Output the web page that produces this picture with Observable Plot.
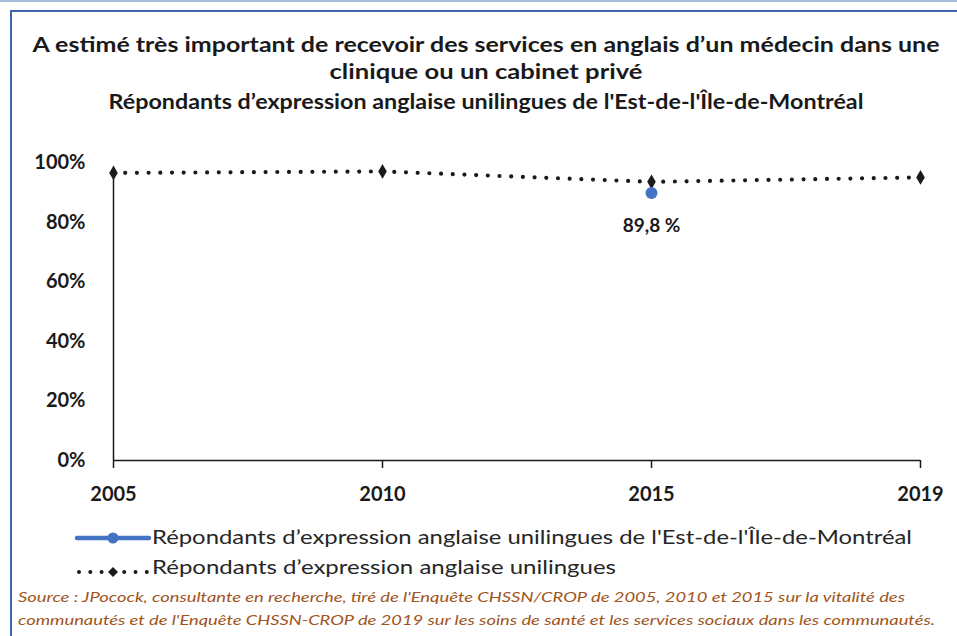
<!DOCTYPE html>
<html>
<head>
<meta charset="utf-8">
<script src="https://cdn.jsdelivr.net/npm/d3@7"></script>
<script src="https://cdn.jsdelivr.net/npm/@observablehq/plot@0.6"></script>
<style>
  html, body { margin: 0; padding: 0; background: #fff; }
  body { width: 957px; height: 636px; position: relative; overflow: hidden; font-family: Lato, "Open Sans", sans-serif; }
  #topline { position: absolute; left: 0; top: 0; width: 957px; height: 2px; background: #a9bcdc; }
  #frame { position: absolute; left: 10px; top: 10px; width: 960px; height: 640px; border-left: 2px solid #4066ad; border-top: 2px solid #4066ad; box-sizing: border-box; }
  #header, #chart, #footer { position: absolute; left: 0; }
  #header { top: 0; }
  #chart { top: 140px; }
  #footer { top: 510px; }
  svg text { font-family: Lato, "Open Sans", sans-serif; }
</style>
</head>
<body>
<div id="topline"></div>
<div id="frame"></div>
<div id="header"></div>
<div id="chart"></div>
<div id="footer"></div>
<script>
// ---- Data ----
const titleLines = [
  "A estimé très important de recevoir des services en anglais  d\u2019un médecin dans une",
  "clinique  ou un cabinet privé",
  "Répondants  d\u2019expression anglaise  unilingues  de l'Est-de-l'Île-de-Montréal"
];
const years = ["2005", "2010", "2015", "2019"];
const allValues = [0.965, 0.97, 0.935, 0.95];      // Répondants d'expression anglaise unilingues
const estYears = ["2015"];
const estValues = [0.898];                           // Est-de-l'Île-de-Montréal
const estLabels = ["89,8 %"];
const yTicks = [0, 0.2, 0.4, 0.6, 0.8, 1];
const seriesNames = [
  "Répondants d\u2019expression anglaise unilingues de l'Est-de-l'Île-de-Montréal",
  "Répondants d\u2019expression anglaise unilingues"
];
const sourceLines = [
  "Source : JPocock, consultante en recherche, tiré de l'Enquête CHSSN/CROP de 2005, 2010 et 2015 sur la vitalité des",
  "communautés et de l'Enquête CHSSN-CROP de 2019 sur les soins de santé et les services sociaux dans les communautés."
];

const allData = years.map((year, i) => ({year, value: allValues[i]}));
const estData = estYears.map((year, i) => ({year, value: estValues[i], label: estLabels[i]}));

const NS = "http://www.w3.org/2000/svg";
function el(tag, attrs, parent) {
  const e = document.createElementNS(NS, tag);
  for (const k in attrs) e.setAttribute(k, attrs[k]);
  if (parent) parent.appendChild(e);
  return e;
}

// ---- Header (title) ----
const header = el("svg", {width: 957, height: 140});
const titleSpecs = [
  {y: 52, len: 907},
  {y: 79, len: 313},
  {y: 109, len: 755}
];
titleLines.forEach((t, i) => {
  const tx = el("text", {
    x: 486, y: titleSpecs[i].y, "text-anchor": "middle",
    "font-size": 20, "font-weight": "bold", fill: "#1a1a1a",
    textLength: titleSpecs[i].len, lengthAdjust: "spacingAndGlyphs"
  }, header);
  tx.textContent = t;
});
document.getElementById("header").appendChild(header);

// ---- Chart ----
const chart = Plot.plot({
  width: 957,
  height: 370,
  marginTop: 22,
  marginBottom: 50,
  marginLeft: 113,
  marginRight: 37,
  style: {fontFamily: "Lato, 'Open Sans', sans-serif", fontSize: "20px", fontWeight: "bold", color: "#1a1a1a", background: "transparent"},
  x: {type: "point", domain: years, padding: 0, label: null},
  y: {domain: [0, 1], label: null},
  marks: [
    Plot.axisY({ticks: yTicks, tickFormat: d3.format(".0%"), tickSize: 0, tickPadding: 28, label: null, fontSize: 20, fontWeight: "bold"}),
    Plot.axisX({tickSize: 8, tickPadding: 18, label: null, fontSize: 20, fontWeight: "bold", strokeWidth: 1.5}),
    Plot.ruleY([0], {stroke: "#1a1a1a", strokeWidth: 1.5}),
    Plot.ruleX([years[0]], {y1: 0, y2: 1, insetBottom: -9, stroke: "#1a1a1a", strokeWidth: 1.5}),
    Plot.line(allData, {x: "year", y: "value", stroke: "#1a1a1a", strokeWidth: 4.2, strokeDasharray: "0 11.7", strokeLinecap: "round"}),
    Plot.dot(allData, {x: "year", y: "value", symbol: "diamond", r: 4.5, fill: "#1a1a1a"}),
    Plot.dot(estData, {x: "year", y: "value", r: 6, fill: "#4472C4"}),
    Plot.text(estData, {x: "year", y: "value", text: "label", dy: 33, fontSize: 19, fontWeight: "bold", fill: "#1a1a1a"})
  ]
});
document.getElementById("chart").appendChild(chart);

// ---- Footer (legend + source) ----
const footer = el("svg", {width: 957, height: 126});
// legend 1: blue line with circle marker
el("line", {x1: 77, x2: 149, y1: 28, y2: 28, stroke: "#4472C4", "stroke-width": 4.5, "stroke-linecap": "round"}, footer);
el("circle", {cx: 113, cy: 28, r: 5.5, fill: "#4472C4"}, footer);
// legend 2: dotted black line with diamond marker
el("line", {x1: 79, x2: 147, y1: 62, y2: 62, stroke: "#1a1a1a", "stroke-width": 4, "stroke-dasharray": "0 11.3", "stroke-linecap": "round"}, footer);
el("path", {d: "M113,57 L118,62 L113,67 L108,62 Z", fill: "#1a1a1a"}, footer);
const legendSpecs = [{y: 34, len: 760}, {y: 64, len: 464}];
seriesNames.forEach((t, i) => {
  const tx = el("text", {
    x: 152, y: legendSpecs[i].y, "font-size": 19, fill: "#262626",
    textLength: legendSpecs[i].len, lengthAdjust: "spacingAndGlyphs"
  }, footer);
  tx.textContent = t;
});
const sourceSpecs = [{y: 92, len: 887}, {y: 115, len: 917}];
sourceLines.forEach((t, i) => {
  const tx = el("text", {
    x: 18, y: sourceSpecs[i].y, "font-size": 13, "font-style": "italic", fill: "#a0541c",
    textLength: sourceSpecs[i].len, lengthAdjust: "spacingAndGlyphs"
  }, footer);
  tx.textContent = t;
});
document.getElementById("footer").appendChild(footer);
</script>
</body>
</html>
